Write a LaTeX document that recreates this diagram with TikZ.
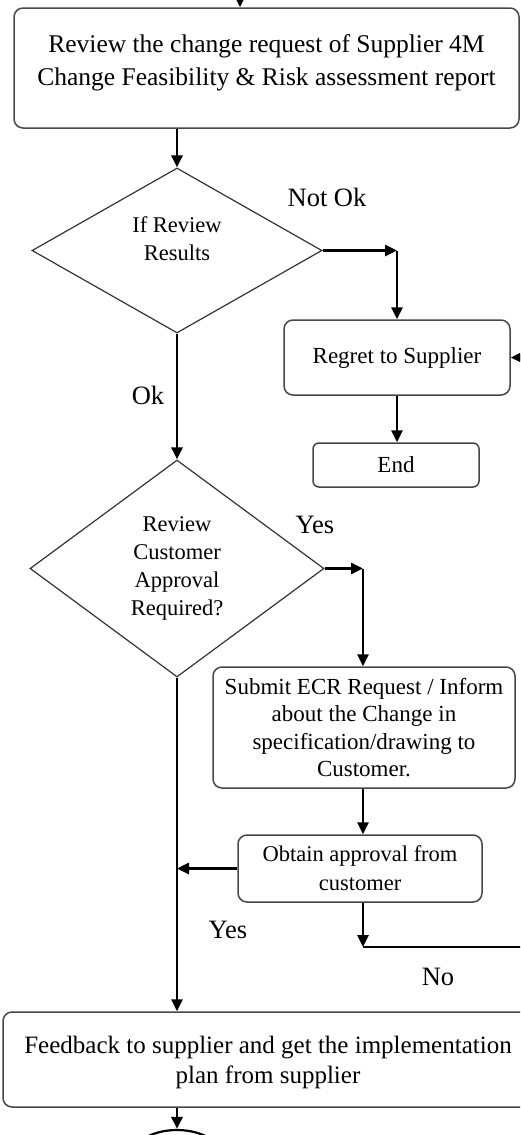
\documentclass[tikz,border=0pt]{standalone}
\usepackage{fontspec}
\setmainfont{Liberation Serif}
\usetikzlibrary{shapes.geometric,arrows.meta}
\begin{document}
\begin{tikzpicture}[x=1pt,y=-1pt,
  box/.style={draw=black!72, line width=1.5pt, rounded corners=9pt, align=center, inner sep=0pt},
  dec/.style={draw=black!80, line width=1.2pt, diamond, inner sep=0pt, align=center, font=\fontsize{22.5}{28}\selectfont},
  arr/.style={line width=2.8pt, -{Triangle[length=12pt,width=11pt]}},
  lbl/.style={font=\fontsize{26.5}{30}\selectfont, inner sep=0pt}]
\useasboundingbox (0,0) rectangle (520,1135);
\clip (0,0) rectangle (520,1135);

\node[box, minimum width=505pt, minimum height=120pt, font=\fontsize{25.5}{33}\selectfont] (review) at (266.5,68)
  {\raisebox{-1pt}[0pt][0pt]{\begin{tabular}{@{}c@{}}Review the change request of Supplier 4M\\Change Feasibility \& Risk assessment report\end{tabular}}};
\node[dec, minimum width=290pt, minimum height=165pt] (d1) at (177,250.5)
  {\raisebox{4pt}[0pt][0pt]{\begin{tabular}{@{}c@{}}If Review\\Results\end{tabular}}};
\node[box, minimum width=226pt, minimum height=75pt, font=\fontsize{23}{28}\selectfont] (regret) at (397,357.5) {Regret to Supplier};
\node[box, rounded corners=6pt, minimum width=166pt, minimum height=44pt, font=\fontsize{23}{28}\selectfont] (end) at (396,465) {End};
\node[dec, minimum width=294pt, minimum height=217pt] (d2) at (177,568.5) {Review\\Customer\\Approval\\Required?};
\node[box, minimum width=302pt, minimum height=121pt, font=\fontsize{23}{27.5}\selectfont] (submit) at (364,727.5)
  {Submit ECR Request / Inform\\about the Change in\\specification/drawing to\\Customer.};
\node[box, minimum width=244pt, minimum height=67pt, font=\fontsize{22.5}{29}\selectfont] (obtain) at (360,868.5)
  {Obtain approval from\\customer};
\node[box, minimum width=530pt, minimum height=95pt, font=\fontsize{25}{30}\selectfont] (feedback) at (268,1059.5)
  {\raisebox{-9pt}[0pt][0pt]{\begin{tabular}{@{}c@{}}Feedback to supplier and get the implementation\\plan from supplier\end{tabular}}};
\node[draw, ellipse, line width=2.2pt, minimum width=92pt, minimum height=56pt] (next) at (177,1158) {};

\node[lbl] (notok) at (327,197) {Not Ok};
\node[lbl] (ok) at (148,395) {Ok};
\node[lbl] (yes1) at (315,525) {Yes};
\node[lbl] (yes2) at (228,930) {Yes};
\node[lbl] (no) at (438,977) {No};

\coordinate (tin) at (240,-30);
\draw[arr] (tin) -- (tin |- review.north);
\draw[arr] (review.south -| d1.north) -- (d1.north);
\coordinate (c1) at (d1.east -| regret.north);
\draw[arr] (d1.east) -- (c1);
\draw[arr] (c1) -- (regret.north);
\draw[arr] (regret.south) -- (regret.south |- end.north);
\draw[arr] (d1.south) -- (d2.north);
\coordinate (c2) at (d2.east -| 363,0);
\draw[arr] (d2.east) -- (c2);
\draw[arr] (c2) -- (c2 |- submit.north);
\draw[arr] (c2 |- submit.south) -- (c2 |- obtain.north);
\draw[arr] (d2.south) -- (d2.south |- feedback.north);
\draw[arr] (obtain.west) -- (obtain.west -| d2.south);
\coordinate (c3) at (363,947);
\coordinate (c4) at (540,947);
\draw[arr] (c3 |- obtain.south) -- (c3);
\draw[arr] (c3) -- (c4) |- (regret.east);
\draw[arr] (feedback.south -| d2.south) -- (next.north);
\end{tikzpicture}
\end{document}
